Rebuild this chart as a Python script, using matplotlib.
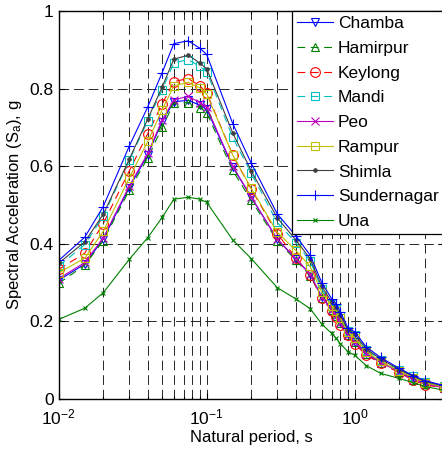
import matplotlib
matplotlib.use("Agg")
import matplotlib.pyplot as plt
from matplotlib.ticker import LogLocator, NullFormatter, FixedLocator

plt.rcParams['font.family'] = ['Liberation Sans', 'DejaVu Sans']
plt.rcParams['mathtext.default'] = 'regular'
plt.rcParams['mathtext.fontset'] = 'custom'
plt.rcParams['mathtext.rm'] = 'Liberation Sans'

periods = [0.01, 0.015, 0.02, 0.03, 0.04, 0.05, 0.06, 0.075, 0.09, 0.1, 0.15, 0.2,
           0.3, 0.4, 0.5, 0.6, 0.7, 0.75, 0.8, 0.9, 1.0, 1.2, 1.5, 2.0, 2.5, 3.0, 4.0]

chamba = [0.306, 0.348, 0.412, 0.545, 0.630, 0.715, 0.766, 0.770, 0.757, 0.747, 0.598, 0.520,
          0.412, 0.362, 0.322, 0.263, 0.232, 0.217, 0.198, 0.168, 0.148, 0.118, 0.095, 0.071, 0.051, 0.040, 0.030]
hamirpur = [0.298, 0.345, 0.408, 0.538, 0.622, 0.700, 0.762, 0.764, 0.751, 0.738, 0.589, 0.512,
            0.408, 0.358, 0.318, 0.260, 0.229, 0.214, 0.195, 0.166, 0.146, 0.116, 0.093, 0.069, 0.050, 0.039, 0.029]
keylong = [0.334, 0.376, 0.452, 0.588, 0.684, 0.760, 0.818, 0.826, 0.807, 0.789, 0.629, 0.541,
           0.426, 0.364, 0.320, 0.260, 0.228, 0.212, 0.190, 0.164, 0.142, 0.113, 0.092, 0.068, 0.048, 0.037, 0.028]
mandi = [0.342, 0.398, 0.471, 0.615, 0.717, 0.797, 0.866, 0.875, 0.857, 0.844, 0.674, 0.582,
         0.455, 0.403, 0.356, 0.283, 0.245, 0.233, 0.213, 0.175, 0.164, 0.127, 0.101, 0.075, 0.058, 0.045, 0.033]
peo = [0.310, 0.352, 0.415, 0.549, 0.633, 0.719, 0.771, 0.780, 0.764, 0.752, 0.600, 0.521,
       0.412, 0.361, 0.321, 0.262, 0.230, 0.215, 0.195, 0.166, 0.146, 0.116, 0.094, 0.070, 0.050, 0.039, 0.029]
rampur = [0.325, 0.363, 0.432, 0.570, 0.664, 0.745, 0.807, 0.816, 0.802, 0.786, 0.629, 0.543,
          0.430, 0.383, 0.342, 0.275, 0.240, 0.228, 0.208, 0.172, 0.158, 0.122, 0.097, 0.072, 0.055, 0.042, 0.031]
shimla = [0.350, 0.405, 0.476, 0.618, 0.722, 0.804, 0.876, 0.886, 0.866, 0.851, 0.686, 0.588,
          0.467, 0.410, 0.362, 0.290, 0.250, 0.238, 0.217, 0.178, 0.167, 0.129, 0.103, 0.076, 0.058, 0.045, 0.033]
sundernagar = [0.357, 0.417, 0.496, 0.652, 0.753, 0.841, 0.916, 0.923, 0.904, 0.888, 0.710, 0.608,
               0.477, 0.421, 0.371, 0.300, 0.258, 0.245, 0.225, 0.184, 0.173, 0.134, 0.107, 0.079, 0.060, 0.047, 0.035]
una = [0.205, 0.234, 0.274, 0.360, 0.416, 0.468, 0.515, 0.520, 0.515, 0.507, 0.410, 0.362,
       0.287, 0.258, 0.233, 0.193, 0.169, 0.156, 0.143, 0.122, 0.113, 0.086, 0.066, 0.053, 0.042, 0.032, 0.023]

names = ['Chamba', 'Hamirpur', 'Keylong', 'Mandi', 'Peo', 'Rampur', 'Shimla', 'Sundernagar', 'Una']
series = [chamba, hamirpur, keylong, mandi, peo, rampur, shimla, sundernagar, una]
colors = [(0, 0, 1), (0, 0.5, 0), (1, 0, 0), (0, 0.75, 0.75), (0.75, 0, 0.75),
          (0.75, 0.75, 0), (0.25, 0.25, 0.25), (0, 0, 1), (0, 0.5, 0)]
dash = (0, (7, 5))
styles = ['-', dash, dash, dash, '-', '-', '-', '-', '-']
markers = ['v', '^', 'o', 's', 'x', 's', '.', '+', 'x']
msizes = [6, 6, 7, 5.5, 6, 5.5, 5, 7, 3.5]
filled = [False, False, False, False, False, False, True, False, False]

fig = plt.figure(figsize=(4.42, 4.54), dpi=100)
ax = fig.add_axes([58.7 / 442, 55 / 454, 385 / 442, 388 / 454])

for name, ys, c, ls, mk, ms, f in zip(names, series, colors, styles, markers, msizes, filled):
    ax.plot(periods, ys, linestyle=ls, color=c, marker=mk, markersize=ms,
            markerfacecolor=c if f else 'none', markeredgecolor=c, markeredgewidth=0.8,
            linewidth=0.8, label=name, clip_on=True)

ax.set_xscale('log')
ax.set_xlim(0.01, 4)
ax.set_ylim(0, 1)
ax.yaxis.set_major_locator(FixedLocator([0, 0.2, 0.4, 0.6, 0.8, 1.0]))
ax.set_yticklabels(['0', '0.2', '0.4', '0.6', '0.8', '1'])
ax.xaxis.set_major_locator(LogLocator(base=10, numticks=10))
ax.xaxis.set_minor_locator(LogLocator(base=10, subs=range(2, 10), numticks=20))
ax.xaxis.set_minor_formatter(NullFormatter())

ax.set_axisbelow(True)
gkw = dict(color=(0.15, 0.15, 0.15), linewidth=0.7, linestyle=(0, (10, 5)))
ax.grid(True, which='major', axis='both', **gkw)
ax.grid(True, which='minor', axis='x', **gkw)

ax.tick_params(which='both', direction='in', top=True, right=True, labelsize=12.5,
               colors='black', width=0.8)
ax.tick_params(which='major', length=4)
ax.tick_params(which='minor', length=2)
ax.tick_params(axis='x', pad=6)
for s in ax.spines.values():
    s.set_linewidth(1.0)
    s.set_color('black')

ax.set_xlabel('Natural period, s', fontsize=12, labelpad=2)
ax.set_ylabel('Spectral Acceleration (S$_{a}$), g', fontsize=12, labelpad=4)

leg = ax.legend(loc='upper right', bbox_to_anchor=(1.0, 1.0), borderaxespad=0,
                fontsize=12.5, frameon=True, fancybox=False, edgecolor='black',
                framealpha=1, handlelength=2.1, handletextpad=0.25,
                labelspacing=0.55, borderpad=0.3)
leg.get_frame().set_linewidth(0.9)

fig.savefig('out.png', dpi=100)
